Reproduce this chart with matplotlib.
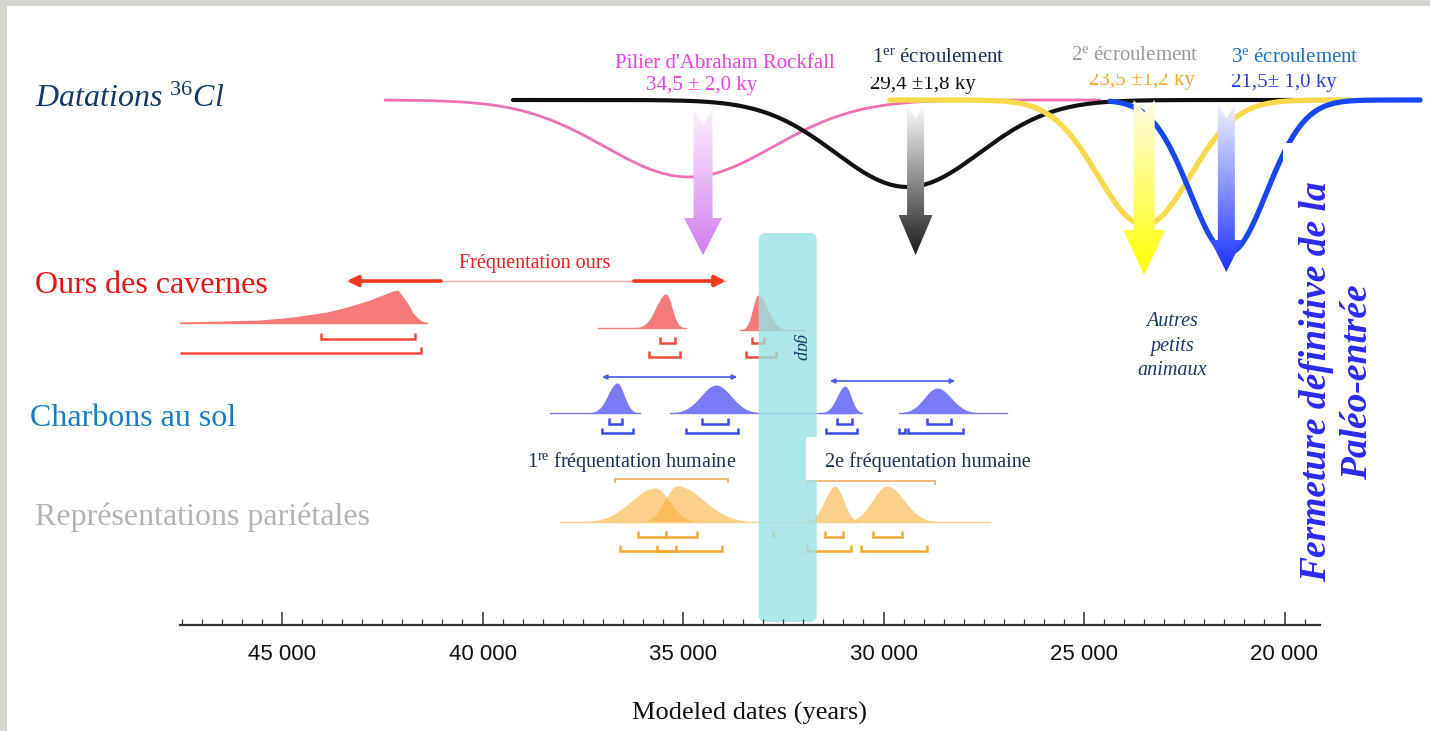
import numpy as np
import matplotlib
matplotlib.use("Agg")
import matplotlib.pyplot as plt
import matplotlib.colors as mcolors
from matplotlib.patches import Polygon, Rectangle, FancyBboxPatch
from matplotlib.ticker import MultipleLocator, FuncFormatter

plt.rcParams['font.family'] = ['Liberation Serif', 'DejaVu Serif']
plt.rcParams['mathtext.fontset'] = 'custom'
plt.rcParams['mathtext.rm'] = 'Liberation Serif'
plt.rcParams['mathtext.it'] = 'Liberation Serif:italic'
plt.rcParams['mathtext.bf'] = 'Liberation Serif:bold'

# ------------------------------------------------------------------ data
# 36Cl exposure dates (density curves, in years BP)
cl_center = [34850, 29400, 23500, 21400]
cl_sigma = [2100, 1800, 1150, 950]
cl_depth = [77, 87, 125, 153]                      # relative amplitude
cl_span = [(42430, 24600), (39240, 19740), (29840, 18370), (24350, 16620)]
cl_arrow = [34500, 29200, 23500, 21450]
cl_colors = ['#f070b4', '#111111', '#f9d84a', '#1747f0']
cl_lw = [2.0, 3.0, 3.8, 3.8]
cl_titles = ["Pilier d'Abraham Rockfall",
             r"$1^{\mathrm{er}}\ \mathrm{écroulement}$",
             r"$2^{\mathrm{e}}\ \mathrm{écroulement}$",
             r"$3^{\mathrm{e}}\ \mathrm{écroulement}$"]
cl_values = ["34,5 ± 2,0 ky", "29,4 ±1,8 ky", "23,5 ±1,2 ky", "21,5± 1,0 ky"]

# Cave bear (ours des cavernes)
bear_main_years = [47544, 46546, 45549, 44726, 43878, 43379, 42880, 42556, 42232, 42107,
                   41883, 41733, 41558, 41384]
bear_main_dens = [1, 2, 3, 6, 11, 16, 22, 27, 32, 33, 21, 10, 3, 0]
bear_modes = [35425, 33130]
bear_sd_old = [250, 135]
bear_sd_young = [150, 240]
bear_peak = [34, 35]
bear_extent = [(37120, 34920), (33580, 31960)]
bear_r68 = [(44027, 41683), (35573, 35199), (33278, 32979)]
bear_r95 = [(48200, 41534), (35847, 35074), (33428, 32680)]
bear_presence = (43380, 33930)

# Charcoal on the floor (charbons au sol)
char_modes = [36645, 34176, 30959, 28664]
char_sd_old = [225, 375, 200, 315]
char_sd_young = [175, 375, 150, 350]
char_peak = [30, 28, 27, 25]
char_extent = [(38316, 36071), (35323, 30834), (31582, 30535), (29612, 26918)]
char_r68 = [(36845, 36520), (34525, 33877), (31158, 30784), (28914, 28315)]
char_r95 = [(37019, 36246), (34924, 33627), (31433, 30660), (29388, 28016), (29612, 29462)]
char_spans = [(37019, 33652), (31333, 28215)]

# Parietal art (représentations pariétales)
art_modes = [35697, 35149, 31208, 29911]
art_sd_old = [600, 300, 255, 360]
art_sd_young = [360, 660, 212, 425]
art_peak = [34, 36, 36, 36]
art_extent = [(38067, 34575), (36570, 32580), (32580, 30585), (30709, 27342)]
art_r68 = [(36121, 35423), (35423, 34650), (32754, 32754), (31458, 31009), (30261, 29537)]
art_r95 = [(36570, 35174), (35648, 34026), (31907, 30809), (30560, 28914)]
art_spans = [(36695, 33877), (31882, 28714)]

gap_years = (33112, 31666)

major_ticks_step = 5000
minor_ticks_step = 500

# ------------------------------------------------------------------ layout
W, H = 1430, 731
K = 5000 / 200.5            # years per pixel
X0 = 45000 + 282 * K        # year at the left edge of the figure


def px2yr(px):
    return X0 - px * K


fig = plt.figure(figsize=(W / 100, H / 100), dpi=100)
fig.patch.set_facecolor('white')
fig.add_artist(Rectangle((0, 0), 7 / W, 1, transform=fig.transFigure, fc='#d3d6cf', ec='none'))
fig.add_artist(Rectangle((0, 1 - 6 / H), 1, 6 / H, transform=fig.transFigure, fc='#d3d6cf', ec='none'))

ax = fig.add_axes([7 / W, 0, 1 - 7 / W, 1 - 6 / H])
ax.axis('off')
XL = (px2yr(7), px2yr(W))
YL = (H, 6)


def rect_px(x0, y0, x1, y1, z, fc='white'):
    r = Rectangle((px2yr(x0), y0), px2yr(x1) - px2yr(x0), y1 - y0, fc=fc, ec='none', zorder=z)
    ax.add_patch(r)


def density(years, mode, s_old, s_young, peak):
    s = np.where(years > mode, s_old, s_young)
    return peak * np.exp(-0.5 * ((years - mode) / s) ** 2)


def bracket(x0, x1, y, color, tick=6, lw=1.8, up=True, limit=None, z=3):
    d = -tick if up else tick
    if limit is not None and x0 > limit:
        xs, ys = [limit, x1, x1], [y, y, y + d]
    else:
        xs, ys = [x0, x0, x1, x1], [y + d, y, y, y + d]
    ax.plot(xs, ys, color=color, lw=lw, solid_capstyle='butt', solid_joinstyle='miter', zorder=z)


def gradient_arrow(x, y_top, y_head, y_tip, shaft_px, head_px, notch, c_top, c_bot, z=5):
    sw, hw = shaft_px * K / 2, head_px * K / 2
    verts = [(x + sw, y_top), (x, y_top + notch), (x - sw, y_top), (x - sw, y_head),
             (x - hw, y_head), (x, y_tip), (x + hw, y_head), (x + sw, y_head)]
    poly = Polygon(verts, closed=True, fc='none', ec='none', zorder=z)
    ax.add_patch(poly)
    c0 = np.array(mcolors.to_rgba(c_top))
    c1 = np.array(mcolors.to_rgba(c_bot))
    t = np.linspace(0, 1, 256)[:, None]
    img = (c0 * (1 - t) + c1 * t)[:, None, :]
    im = ax.imshow(img, extent=[x + hw, x - hw, y_tip, y_top], origin='upper',
                   aspect='auto', zorder=z, interpolation='bilinear')
    im.set_clip_path(poly)


# ------------------------------------------------------------------ 36Cl curves
base_cl = 100
for c, s, d, (a, b), col, lw in zip(cl_center, cl_sigma, cl_depth, cl_span, cl_colors, cl_lw):
    yrs = np.linspace(a, b, 600)
    ax.plot(yrs, base_cl + d * np.exp(-0.5 * ((yrs - c) / s) ** 2), color=col, lw=lw,
            zorder=2, solid_capstyle='round')

arrow_geom = [(110, 218, 255, 19, 38, 15), (104, 215, 255, 17, 34, 15),
              (100, 230, 275, 21, 42, 12), (104, 240, 272, 17, 32, 15)]
arrow_cols = [('#fcf0fd', '#d47cf0'), ('#ffffff', '#1a1a1a'),
              ('#fffce6', '#ffff00'), ('#f2f2ff', '#1a30ff')]
for xa, g, cc in zip(cl_arrow, arrow_geom, arrow_cols):
    gradient_arrow(xa, *g, cc[0], cc[1], z=3)

# labels above
ax.text(px2yr(725), 68, cl_titles[0], color='#f040e4', fontsize=15, ha='center', va='baseline', zorder=7)
ax.text(px2yr(702), 90, cl_values[0], color='#f040e4', fontsize=15, ha='center', va='baseline', zorder=7)
val_pos = [(923, 89, '#111111'), (1142, 85, '#f8a830'), (1284, 87, '#2a40f0')]
for (xp, yb, col), s in zip(val_pos, cl_values[1:]):
    ax.text(px2yr(xp), yb, s, color=col, fontsize=15, ha='center', va='baseline', zorder=5)
rect_px(860, 36, 1010, 77, z=6)
rect_px(1010, 36, 1400, 74, z=6)
title_pos = [(938, 62, '#1a2f5a'), (1135, 60, '#9a9a9a'), (1295, 62, '#1f6fc0')]
for (xp, yb, col), s in zip(title_pos, cl_titles[1:]):
    ax.text(px2yr(xp), yb, s, color=col, fontsize=15, ha='center', va='baseline', zorder=7)

# ------------------------------------------------------------------ row labels
ax.text(px2yr(35), 107, r'$\mathit{Datations}\ ^{36}\mathit{Cl}$', color='#133a6b', fontsize=23,
        ha='left', va='baseline', zorder=7)
ax.text(px2yr(35), 293, 'Ours des cavernes', color='#f01010', fontsize=23, ha='left', va='baseline', zorder=7)
ax.text(px2yr(30), 426, 'Charbons au sol', color='#1a7cc8', fontsize=23, ha='left', va='baseline', zorder=7)
ax.text(px2yr(35), 525, 'Représentations pariétales', color='#b3b3b3', fontsize=23, ha='left',
        va='baseline', zorder=7)

# ------------------------------------------------------------------ bear
bear_col, bear_line = '#f77a7a', '#f04a3a'
ax.fill_between(bear_main_years, 323, 323 - np.array(bear_main_dens), color=bear_col, lw=0, zorder=2)
ax.plot(bear_main_years, [323] * len(bear_main_years), color=bear_col, lw=1, zorder=2)
bear_base = [328, 330]
for m, so, sy, pk, (a, b), yb in zip(bear_modes, bear_sd_old, bear_sd_young, bear_peak, bear_extent, bear_base):
    yrs = np.linspace(a, b, 400)
    ax.fill_between(yrs, yb, yb - density(yrs, m, so, sy, pk), color=bear_col, lw=0, zorder=2)
    ax.plot(yrs, [yb] * len(yrs), color=bear_col, lw=1, zorder=2)
bear_rows = [(339, 353), (343, 357), (343, 357)]
for (r68, r95, (y68, y95)) in zip(bear_r68, bear_r95, bear_rows):
    bracket(r68[0], r68[1], y68, bear_line, tick=6)
    bracket(r95[0], r95[1], y95, bear_line, tick=6, limit=px2yr(180))

pa, pb = bear_presence
ax.plot([pa, pb], [281, 281], color='#f6a3a3', lw=1, zorder=3)
for tip, back in [(pa, pa - 94 * K), (pb, pb + 92 * K)]:
    ax.annotate('', xy=(tip, 281), xytext=(back, 281),
                arrowprops=dict(arrowstyle='-|>', color='#f03a20', lw=2.6, mutation_scale=16,
                                shrinkA=0, shrinkB=0), zorder=3)
ax.text(px2yr(535), 268, 'Fréquentation ours', color='#ff1a1a', fontsize=14.5, ha='center',
        va='baseline', zorder=7)

# ------------------------------------------------------------------ charcoal
char_col, char_line = '#7a7af7', '#3a4af0'
for m, so, sy, pk, (a, b) in zip(char_modes, char_sd_old, char_sd_young, char_peak, char_extent):
    yrs = np.linspace(a, b, 400)
    ax.fill_between(yrs, 413, 413 - density(yrs, m, so, sy, pk), color=char_col, lw=0, zorder=2)
    ax.plot(yrs, [413] * len(yrs), color=char_col, lw=1, zorder=2)
for a, b in char_r68:
    bracket(a, b, 424, char_line, tick=6)
for a, b in char_r95:
    bracket(a, b, 433, char_line, tick=5)
for (a, b), y in zip(char_spans, [377, 381]):
    ax.annotate('', xy=(b, y), xytext=(a, y),
                arrowprops=dict(arrowstyle='<|-|>', color='#4a5af0', lw=1.2, mutation_scale=7,
                                shrinkA=0, shrinkB=0), zorder=3)

# ------------------------------------------------------------------ parietal art
art_col, art_line = '#fbb13c', '#f8a830'
for m, so, sy, pk, (a, b) in zip(art_modes, art_sd_old, art_sd_young, art_peak, art_extent):
    yrs = np.linspace(a, b, 400)
    ax.fill_between(yrs, 522, 522 - density(yrs, m, so, sy, pk), color=art_col, alpha=0.6, lw=0, zorder=2)
    ax.plot(yrs, [522] * len(yrs), color='#fdd08a', lw=1, zorder=2)
for a, b in art_r68:
    bracket(a, b, 537, art_line, tick=6)
for a, b in art_r95:
    bracket(a, b, 551, art_line, tick=6)
for (a, b), y in zip(art_spans, [479, 481]):
    bracket(a, b, y, '#f2a865', tick=4, lw=1.2, up=False)

# ------------------------------------------------------------------ gap band
g0, g1 = gap_years
band = FancyBboxPatch((g1, 233), g0 - g1, 622 - 233,
                      boxstyle='round,pad=0,rounding_size=%f' % (7 * K), mutation_aspect=1 / K,
                      fc=(0.60, 0.89, 0.89), ec='none', alpha=0.8, zorder=4)
ax.add_patch(band)
ax.text(px2yr(801), 347, 'gap', color='#1a3a6a', fontsize=13, style='italic', rotation=-90,
        ha='center', va='center', zorder=5)

# human frequentation labels
ax.text(px2yr(632), 467, r'$1^{\mathrm{re}}\ \mathrm{fréquentation\ humaine}$', color='#1a2f5a',
        fontsize=14.5, ha='center', va='baseline', zorder=7)
rect_px(806, 437, 1040, 480, z=6)
ax.text(px2yr(928), 467, '2e fréquentation humaine', color='#1a2f5a', fontsize=14.5,
        ha='center', va='baseline', zorder=7)

ax.text(px2yr(1172), 346, 'Autres\npetits\nanimaux', color='#1a3a6a', fontsize=14.5,
        style='italic', ha='center', va='center', linespacing=1.38, zorder=7)

# closing text
rect_px(1283, 143, 1430, 600, z=8)
ax.text(px2yr(1337), 382, 'Fermeture définitive de la\nPaléo-entrée', color='#2a2af5', fontsize=27,
        fontweight='bold', style='italic', rotation=90, ha='center', va='center',
        multialignment='center', linespacing=1.2, zorder=9)

ax.set_xlim(*XL)
ax.set_ylim(*YL)

# ------------------------------------------------------------------ time axis
axt = fig.add_axes([180 / W, (H - 625) / H, 1140 / W, 0.02])
axt.patch.set_visible(False)
for s in ['top', 'left', 'right']:
    axt.spines[s].set_visible(False)
axt.spines['bottom'].set_linewidth(1.6)
axt.spines['bottom'].set_color('#333333')
axt.yaxis.set_visible(False)
axt.set_xlim(px2yr(180), px2yr(1320))
axt.xaxis.set_major_locator(MultipleLocator(major_ticks_step))
axt.xaxis.set_minor_locator(MultipleLocator(minor_ticks_step))
axt.xaxis.set_major_formatter(FuncFormatter(lambda v, p: f"{int(round(v)):,}".replace(",", " ")))
axt.tick_params(axis='x', which='major', direction='in', length=9.5, width=1.1, color='#333333',
                labelsize=16, pad=13.5, labelcolor='#111111', labelfontfamily='Liberation Sans')
axt.tick_params(axis='x', which='minor', direction='in', length=4.5, width=0.9, color='#333333')
axt.set_xlabel('Modeled dates (years)', fontsize=19, labelpad=27, color='#111111')

fig.savefig('out.png', dpi=100)
